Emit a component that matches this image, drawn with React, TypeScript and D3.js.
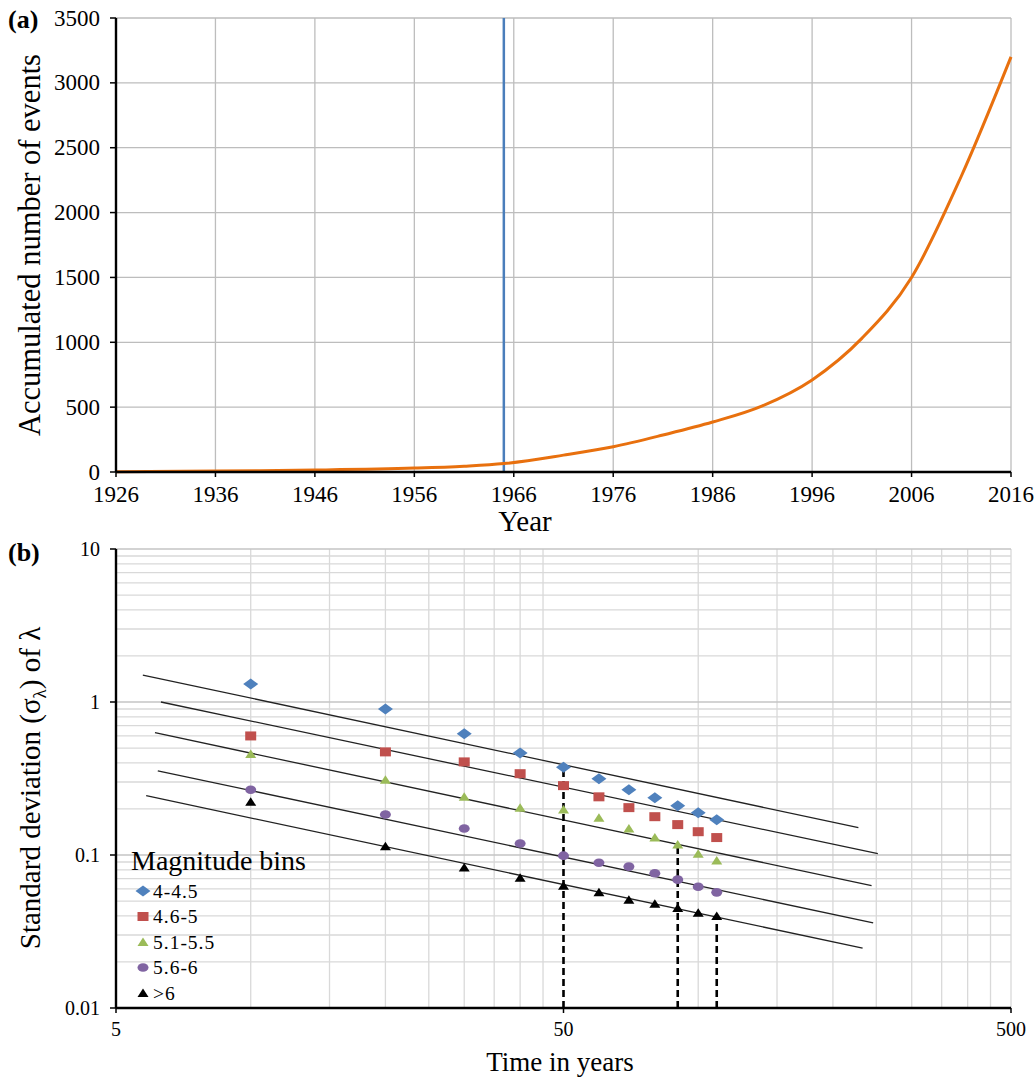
import React, { useEffect, useRef } from "react";
import * as d3 from "d3";

// panel (a): accumulated number of events
const years = [1926, 1936, 1946, 1956, 1961, 1965, 1971, 1976, 1981, 1986, 1991, 1996, 2001, 2006, 2011, 2016];
const events = [2, 8, 15, 30, 45, 65, 130, 195, 285, 385, 510, 710, 1030, 1500, 2280, 3200];
const markYear = 1965;
const yearTicks = [1926, 1936, 1946, 1956, 1966, 1976, 1986, 1996, 2006, 2016];
const countTicks = [0, 500, 1000, 1500, 2000, 2500, 3000, 3500];

// panel (b): standard deviation of lambda
const times = [10, 20, 30, 40, 50, 60, 70, 80, 90, 100, 110];
const bins = ["4-4.5", "4.6-5", "5.1-5.5", "5.6-6", ">6"];
const sd1 = [1.31, 0.9, 0.62, 0.465, 0.375, 0.315, 0.267, 0.237, 0.21, 0.189, 0.17];
const sd2 = [0.6, 0.472, 0.406, 0.34, 0.284, 0.24, 0.204, 0.178, 0.158, 0.142, 0.13];
const sd3 = [0.458, 0.31, 0.24, 0.204, 0.198, 0.175, 0.149, 0.13, 0.117, 0.102, 0.092];
const sd4 = [0.267, 0.184, 0.149, 0.119, 0.099, 0.089, 0.084, 0.076, 0.069, 0.062, 0.057];
const sd5 = [0.223, 0.114, 0.083, 0.071, 0.063, 0.057, 0.051, 0.048, 0.045, 0.042, 0.04];
// fitted lines (start / end)
const fitT0 = [5.74, 6.3, 6.11, 6.2, 5.84];
const fitT1 = [228, 252, 244, 246, 233];
const fitV0 = [1.5, 1.0, 0.63, 0.355, 0.244];
const fitV1 = [0.151, 0.102, 0.063, 0.036, 0.0246];
// dashed drop lines: time, top value
const dropT = [50, 90, 110];
const dropV = [0.375, 0.117, 0.04];
const timeTicks = [5, 50, 500];
const sdTicks = [0.01, 0.1, 1, 10];

const colors = ["#4f81bd", "#c0504d", "#9bbb59", "#8064a2", "#000000"];
const shapes = ["diamond", "square", "triangle", "circle", "triangle"];
const font = "'Liberation Serif', 'Times New Roman', serif";

const App = () => {
  const ref = useRef(null);

  useEffect(() => {
    const svg = d3.select(ref.current);
    svg.selectAll("*").remove();
    svg.attr("font-family", font);

    // ---------- panel (a) ----------
    const xa = d3.scaleLinear().domain([1926, 2016]).range([116, 1011]);
    const ya = d3.scaleLinear().domain([0, 3500]).range([472, 18]);
    const a = svg.append("g");

    a.selectAll(".vg").data(yearTicks.slice(1)).join("line")
      .attr("x1", (d) => xa(d)).attr("x2", (d) => xa(d))
      .attr("y1", ya(0)).attr("y2", ya(3500))
      .attr("stroke", "#bdbdbd").attr("stroke-width", 1.3);
    a.selectAll(".hg").data(countTicks.slice(1)).join("line")
      .attr("x1", xa(1926)).attr("x2", xa(2016))
      .attr("y1", (d) => ya(d)).attr("y2", (d) => ya(d))
      .attr("stroke", "#bdbdbd").attr("stroke-width", 1.3);

    a.append("line")
      .attr("x1", xa(markYear)).attr("x2", xa(markYear))
      .attr("y1", ya(3500)).attr("y2", ya(0))
      .attr("stroke", "#4a7ebb").attr("stroke-width", 2.5);

    const lineA = d3.line().x((d) => xa(d[0])).y((d) => ya(d[1])).curve(d3.curveMonotoneX);
    a.append("path")
      .attr("d", lineA(years.map((y, i) => [y, events[i]])))
      .attr("fill", "none").attr("stroke", "#e8700e").attr("stroke-width", 3);

    // axes
    a.append("line").attr("x1", 116).attr("x2", 116).attr("y1", ya(3500)).attr("y2", ya(0))
      .attr("stroke", "#000").attr("stroke-width", 2.4);
    a.append("line").attr("x1", 116).attr("x2", xa(2016)).attr("y1", ya(0)).attr("y2", ya(0))
      .attr("stroke", "#000").attr("stroke-width", 2.4);
    a.selectAll(".yt").data(countTicks).join("line")
      .attr("x1", 110).attr("x2", 116).attr("y1", (d) => ya(d)).attr("y2", (d) => ya(d))
      .attr("stroke", "#000").attr("stroke-width", 1.5);
    a.selectAll(".xt").data(yearTicks).join("line")
      .attr("x1", (d) => xa(d)).attr("x2", (d) => xa(d)).attr("y1", ya(0)).attr("y2", ya(0) + 5)
      .attr("stroke", "#000").attr("stroke-width", 1.5);

    a.selectAll(".yl").data(countTicks).join("text")
      .attr("x", 100).attr("y", (d) => ya(d)).attr("dy", "0.33em")
      .attr("text-anchor", "end").attr("font-size", 23).text((d) => d);
    a.selectAll(".xl").data(yearTicks).join("text")
      .attr("x", (d) => xa(d)).attr("y", 502)
      .attr("text-anchor", "middle").attr("font-size", 23).text((d) => d);

    a.append("text").attr("x", 525).attr("y", 531).attr("text-anchor", "middle")
      .attr("font-size", 29).text("Year");
    a.append("text").attr("transform", "translate(40,245) rotate(-90)")
      .attr("text-anchor", "middle").attr("font-size", 30.5).text("Accumulated number of events");
    a.append("text").attr("x", 8).attr("y", 28).attr("font-size", 26)
      .attr("font-weight", "bold").text("(a)");

    // ---------- panel (b) ----------
    const xb = d3.scaleLog().domain([5, 500]).range([116, 1011]);
    const yb = d3.scaleLog().domain([0.01, 10]).range([1008, 549]);
    const b = svg.append("g");

    const minorT = [5, 50].flatMap((base) => d3.range(2, 10).map((k) => base * k));
    b.selectAll(".vg").data(minorT).join("line")
      .attr("x1", (d) => xb(d)).attr("x2", (d) => xb(d))
      .attr("y1", yb(0.01)).attr("y2", yb(10))
      .attr("stroke", (d) => (d === 50 ? "#a6a6a6" : "#d9d9d9")).attr("stroke-width", 1.3);
    b.append("line").attr("x1", xb(500)).attr("x2", xb(500)).attr("y1", yb(0.01)).attr("y2", yb(10))
      .attr("stroke", "#d9d9d9").attr("stroke-width", 1.3);
    b.selectAll(".hg").data(yb.ticks().filter((d) => d > 0.0100001)).join("line")
      .attr("x1", xb(5)).attr("x2", xb(500))
      .attr("y1", (d) => yb(d)).attr("y2", (d) => yb(d))
      .attr("stroke", (d) => (sdTicks.includes(d) ? "#c4c4c4" : "#d9d9d9")).attr("stroke-width", 1.3);

    // fitted lines
    b.selectAll(".fit").data(fitT0).join("line")
      .attr("x1", (d) => xb(d)).attr("y1", (d, i) => yb(fitV0[i]))
      .attr("x2", (d, i) => xb(fitT1[i])).attr("y2", (d, i) => yb(fitV1[i]))
      .attr("stroke", "#222").attr("stroke-width", 1.3);

    // dashed drop lines
    b.selectAll(".drop").data(dropT).join("line")
      .attr("x1", (d) => xb(d)).attr("x2", (d) => xb(d))
      .attr("y1", yb(0.01)).attr("y2", (d, i) => yb(dropV[i]))
      .attr("stroke", "#000").attr("stroke-width", 2.6).attr("stroke-dasharray", "7,4");

    const shapePath = (shape) => {
      if (shape === "diamond") return "M-7.5,0L0,-5.5L7.5,0L0,5.5Z";
      if (shape === "square") return "M-5.5,-4.5H5.5V4.5H-5.5Z";
      if (shape === "triangle") return "M-5.5,4L0,-4.5L5.5,4Z";
      return "M-5.5,0A5.5,4.3 0 1,0 5.5,0A5.5,4.3 0 1,0 -5.5,0Z";
    };

    const series = [sd1, sd2, sd3, sd4, sd5];
    series.forEach((vals, s) => {
      b.selectAll(".m" + s).data(vals).join("path")
        .attr("transform", (d, i) => `translate(${xb(times[i])},${yb(d)})`)
        .attr("d", shapePath(shapes[s])).attr("fill", colors[s]);
    });

    // legend
    const lg = b.append("g");
    lg.append("text").attr("x", 131).attr("y", 870).attr("font-size", 28).text("Magnitude bins");
    bins.forEach((name, i) => {
      const cy = 891 + i * 25.5;
      lg.append("path").attr("transform", `translate(143,${cy})`)
        .attr("d", shapePath(shapes[i])).attr("fill", colors[i]);
      lg.append("text").attr("x", 153).attr("y", cy).attr("dy", "0.35em")
        .attr("font-size", 19.5).attr("letter-spacing", 1).text(name);
    });

    // axes
    b.append("line").attr("x1", 116).attr("x2", 116).attr("y1", yb(10)).attr("y2", yb(0.01))
      .attr("stroke", "#000").attr("stroke-width", 2.4);
    b.append("line").attr("x1", 116).attr("x2", xb(500)).attr("y1", yb(0.01)).attr("y2", yb(0.01))
      .attr("stroke", "#000").attr("stroke-width", 2.4);
    b.selectAll(".yt").data(sdTicks).join("line")
      .attr("x1", 110).attr("x2", 116).attr("y1", (d) => yb(d)).attr("y2", (d) => yb(d))
      .attr("stroke", "#000").attr("stroke-width", 1.5);
    b.selectAll(".xt").data(timeTicks).join("line")
      .attr("x1", (d) => xb(d)).attr("x2", (d) => xb(d)).attr("y1", yb(0.01)).attr("y2", yb(0.01) + 5)
      .attr("stroke", "#000").attr("stroke-width", 1.5);

    b.selectAll(".yl").data(sdTicks).join("text")
      .attr("x", 100).attr("y", (d) => yb(d)).attr("dy", "0.33em")
      .attr("text-anchor", "end").attr("font-size", 20).text((d) => d);
    b.selectAll(".xl").data(timeTicks).join("text")
      .attr("x", (d) => xb(d)).attr("y", 1036)
      .attr("text-anchor", "middle").attr("font-size", 20).text((d) => d);

    b.append("text").attr("x", 560).attr("y", 1071).attr("text-anchor", "middle")
      .attr("font-size", 27).text("Time in years");
    const yt = b.append("text").attr("transform", "translate(40,788) rotate(-90)")
      .attr("text-anchor", "middle").attr("font-size", 29);
    yt.append("tspan").text("Standard deviation (σ");
    yt.append("tspan").attr("font-size", 19).attr("dy", 6).text("λ");
    yt.append("tspan").attr("dy", -6).text(") of λ");
    b.append("text").attr("x", 8).attr("y", 561).attr("font-size", 26)
      .attr("font-weight", "bold").text("(b)");
  }, []);

  return (
    <svg
      ref={ref}
      width={1035}
      height={1080}
      style={{ position: "absolute", left: 0, top: 0, background: "#fff" }}
    ></svg>
  );
};

export default App;
